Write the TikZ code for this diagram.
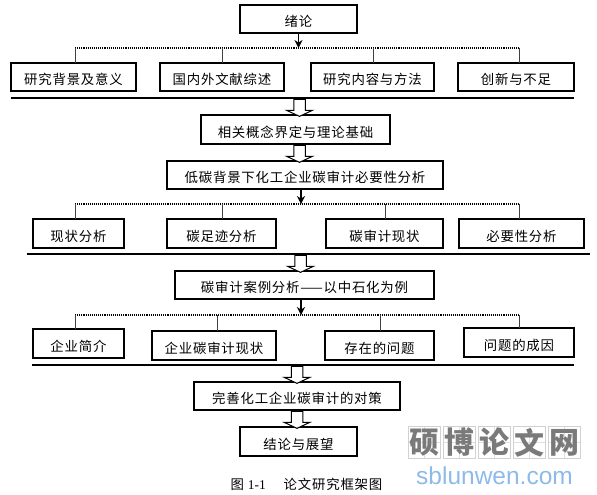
\documentclass[tikz,border=0pt]{standalone}
\usepackage{fontspec}
\setmainfont[LetterSpace=6]{Noto Sans CJK SC}
\newfontfamily\latfont{Liberation Serif}
\newfontfamily\urlfont{Liberation Sans}
\usepackage{tikz}
\usetikzlibrary{arrows.meta,positioning,calc,shapes.arrows}
\definecolor{urlblue}{RGB}{142,186,235}

\begin{document}
\begin{tikzpicture}[
  x=1pt, y=-1pt,
  font=\fontsize{13.4}{15}\selectfont,
  box/.style={draw, line width=1.2pt, minimum height=28pt, inner sep=0pt, outer sep=0pt,
              text height=15.5pt, text depth=0.5pt, align=center},
  bus/.style={line width=1.1pt, densely dotted},
  drop/.style={line width=0.8pt, black!75},
  rule/.style={line width=1.4pt},
  arr/.style={-{Stealth[length=8pt,width=8pt]}, line width=1.2pt},
  blockarr/.style={draw, fill=white, line width=1pt, single arrow, rotate=-90, inner sep=0pt,
                   text height=10.5pt, text depth=0pt, minimum height=17pt, minimum width=22pt,
                   single arrow tip angle=130, outer sep=0pt},
  tile/.style={draw=black!18, line width=0.7pt, minimum size=32pt, inner sep=0pt, text=black!52,
               path picture={\draw[black!12, line width=0.5pt]
                 (path picture bounding box.north) -- (path picture bounding box.south)
                 (path picture bounding box.west) -- (path picture bounding box.east);}}
]
\useasboundingbox (0,0) rectangle (597,495);

\node[box, minimum width=117pt] (intro) at (298.5,19) {绪论};
\node[box, minimum width=125pt] (bg) at (73.5,77) {研究背景及意义};
\node[box, minimum width=124pt, right=24pt of bg] (lit) {国内外文献综述};
\node[box, minimum width=123pt, right=27pt of lit] (meth) {研究内容与方法};
\node[box, minimum width=116pt, right=24pt of meth] (innov) {创新与不足};

\coordinate (busa) at (75,48);
\coordinate (busb) at (519,48);
\coordinate (busm) at (298.5,48);
\draw[arr] (intro.south) -- (busm);
\draw[bus] (busa) -- (busb);
\draw[drop] (busa) -- (busa |- bg.north);
\draw[drop] (lit.north |- busa) -- (lit.north);
\draw[drop] (373,48) -- (373,48 |- meth.north);
\draw[drop] (busb) -- (busb |- innov.north);

\coordinate (rulea) at (11,98);
\coordinate (ruleb) at (574,98);
\draw[rule] (rulea) -- (ruleb);

\node[box, minimum width=189pt, minimum height=29pt] (theory) at (295.5,129.5) {相关概念界定与理论基础};
\node[box, minimum width=276pt] (need) at (305,175) {低碳背景下化工企业碳审计必要性分析};
\coordinate (blocka) at (299.5,98);
\coordinate (blockb) at (299.5,144);
\node[blockarr] (ba) at ($(blocka)!.5!(blocka |- theory.north)$) {};
\node[blockarr] (bb) at ($(blockb)!.5!(blockb |- need.north)$) {};

\node[box, minimum width=91pt, minimum height=29pt] (now) at (78.5,233.5) {现状分析};
\node[box, minimum width=109pt, minimum height=29pt, right=43pt of now] (foot) {碳足迹分析};
\node[box, minimum width=117pt, minimum height=29pt, right=50pt of foot] (audit) {碳审计现状};
\node[box, minimum width=125pt, minimum height=29pt, right=16pt of audit] (must) {必要性分析};

\coordinate (busc) at (75,204);
\coordinate (busd) at (519,204);
\coordinate (busn) at (301,204);
\draw[arr] (busn |- need.south) -- (busn);
\draw[bus] (busc) -- (busd);
\draw[drop] (busc) -- (busc |- now.north);
\draw[drop] (222,204) -- (222,204 |- foot.north);
\draw[drop] (385,204) -- (385,204 |- audit.north);
\draw[drop] (busd) -- (busd |- must.north);

\coordinate (rulec) at (27,254);
\coordinate (ruled) at (590,254);
\draw[rule] (rulec) -- (ruled);

\node[box, minimum width=259pt] (case) at (304.5,285) {碳审计案例分析——以中石化为例};
\coordinate (blockc) at (300.5,254);
\node[blockarr] (bc) at ($(blockc)!.5!(blockc |- case.north)$) {};

\node[box, minimum width=91pt, minimum height=29pt] (firm) at (78.5,343.5) {企业简介};
\node[box, minimum width=124pt, minimum height=29pt] (state) at (214,345.5) {企业碳审计现状};
\node[box, minimum width=109pt, minimum height=29pt] (issue) at (379.5,345.5) {存在的问题};
\node[box, minimum width=110pt, minimum height=29pt] (cause) at (519,342.5) {问题的成因};

\coordinate (buse) at (75,315);
\coordinate (busf) at (519,315);
\coordinate (busp) at (301,315);
\draw[arr] (busp |- case.south) -- (busp);
\draw[bus] (buse) -- (busf);
\draw[drop] (buse) -- (buse |- firm.north);
\draw[drop] (217,315) -- (217,315 |- state.north);
\draw[drop] (380,315) -- (380,315 |- issue.north);
\draw[drop] (busf) -- (busf |- cause.north);

\coordinate (rulee) at (32,365);
\coordinate (rulef) at (574,365);
\draw[rule] (rulee) -- (rulef);

\node[box, minimum width=206pt] (plan) at (297,396) {完善化工企业碳审计的对策};
\node[box, minimum width=117pt, minimum height=29pt] (end) at (298.5,441.5) {结论与展望};
\coordinate (blockd) at (297,365);
\coordinate (blocke) at (297,410);
\node[blockarr] (bd) at ($(blockd)!.5!(blockd |- plan.north)$) {};
\node[blockarr] (be) at ($(blocke)!.5!(blocke |- end.north)$) {};

\foreach \n/\x/\t in {wa/424/硕, wb/459/博, wc/494/论, wd/529/文, we/564/网}
  \node[tile, font=\fontsize{30}{32}\selectfont\bfseries] (\n) at (\x,442.5) {\t};
\node[text=urlblue, font=\urlfont\fontsize{24.5}{26}\selectfont] (url) at (494.5,476) {sblunwen.com};

\node (cap) at (306.5,484) {图 {\latfont 1-1}\hspace{18pt}论文研究框架图};
\end{tikzpicture}
\end{document}
